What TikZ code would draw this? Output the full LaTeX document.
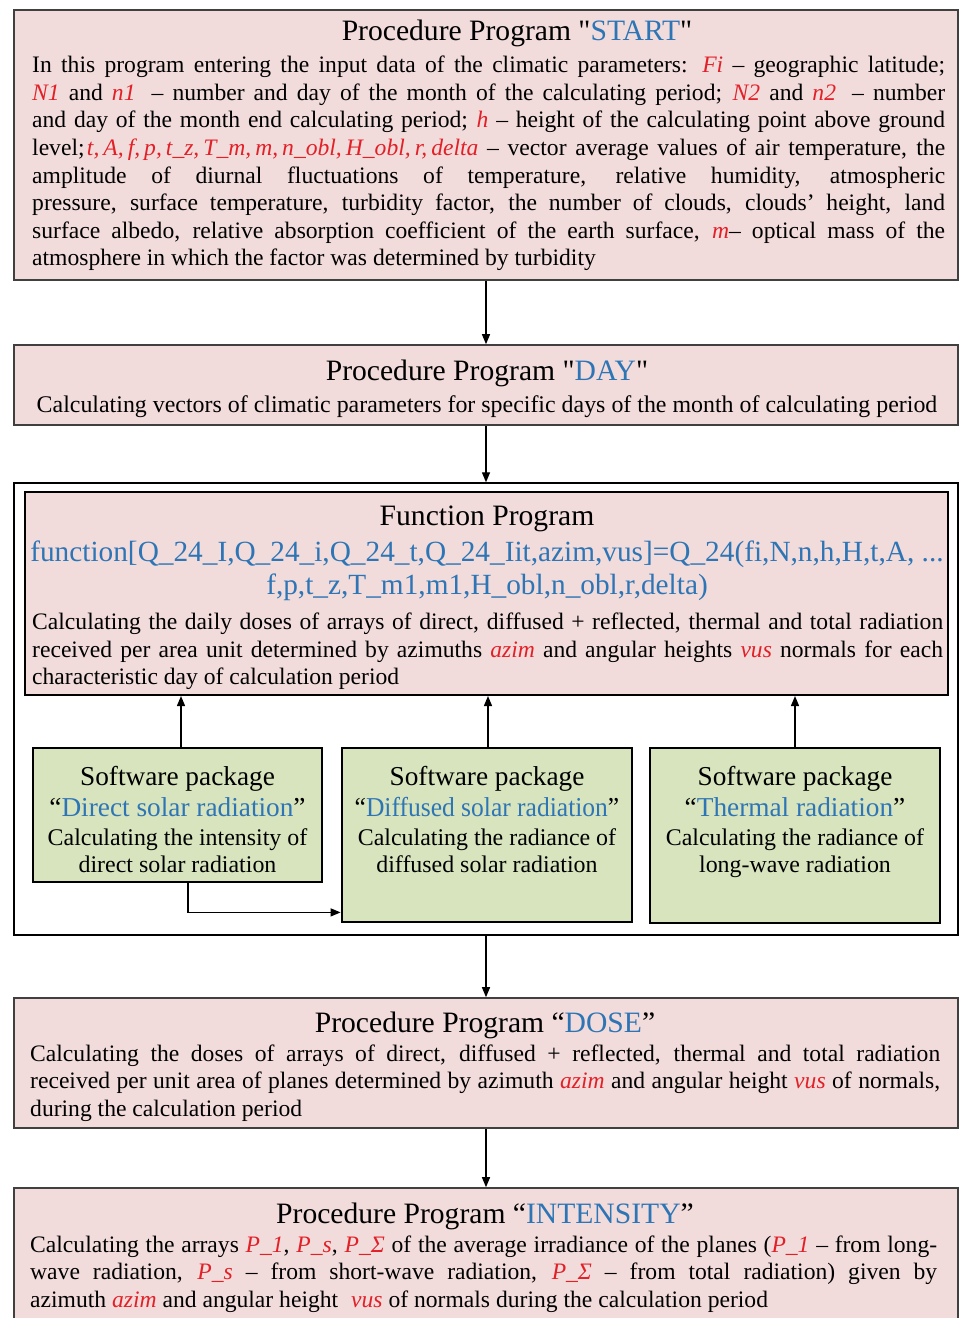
\documentclass[tikz,border=0pt]{standalone}
\usepackage{fontspec}
\usepackage{graphicx}
\setmainfont{Liberation Serif}
\usetikzlibrary{arrows.meta}
\definecolor{pinkfill}{RGB}{242,220,219}
\definecolor{greenfill}{RGB}{215,228,189}
\definecolor{boxgray}{RGB}{64,64,64}
\definecolor{tblue}{RGB}{46,117,182}
\definecolor{tred}{RGB}{226,32,40}
\newcommand\R[1]{\textcolor{tred}{\textit{#1}}}
\newcommand\B[1]{\textcolor{tblue}{#1}}
\newcommand\sq{\XeTeXglyph\XeTeXcharglyph"22\relax}
\newcommand\jl[2]{\hbox to #1{\spaceskip=.25em plus 1fil minus .12em\relax #2}}
\newcommand\fst{\rule{0pt}{20pt}}
\begin{document}
\begin{tikzpicture}[x=1pt,y=-1pt,
  pinkbox/.style={draw=boxgray, line width=1.6pt, fill=pinkfill, inner sep=0pt},
  greenbox/.style={draw=black, line width=2.8pt, fill=greenfill, inner sep=0pt},
  framebox/.style={draw=black, line width=1.4pt, inner sep=0pt},
  ttl/.style={font=\fontsize{29.6}{34}\selectfont, anchor=base, inner sep=0pt},
  fnl/.style={font=\fontsize{29.3}{33}\selectfont, anchor=base, inner sep=0pt, text=tblue},
  gh/.style={font=\fontsize{27.3}{31}\selectfont, anchor=base, inner sep=0pt},
  gb/.style={font=\fontsize{23.9}{27.7}\selectfont, anchor=base, inner sep=0pt},
  body/.style={font=\fontsize{#1}{27.6}\selectfont, anchor=north west, inner sep=0pt},
  line1/.style={font=\fontsize{23.9}{27.6}\selectfont, anchor=base, inner sep=0pt},
  arr/.style={-{Triangle[length=10pt,width=8pt]}, line width=1.3pt},
]
\useasboundingbox (0,0) rectangle (961,1318);
\fill[white] (0,0) rectangle (961,1318);

% boxes
\node[pinkbox, minimum width=944pt, minimum height=270pt] (start) at (486,145) {};
\node[pinkbox, minimum width=944pt, minimum height=80pt] (day) at (486,385) {};
\node[framebox, minimum width=944pt, minimum height=452pt] (frame) at (486,709) {};
\node[pinkbox, draw=black, line width=2pt, minimum width=923pt, minimum height=203pt] (func) at (486.5,593.5) {};
\node[greenbox, minimum width=289pt, minimum height=134pt] (g1) at (177.5,815) {};
\node[greenbox, minimum width=290pt, minimum height=174pt] (g2) at (487,835) {};
\node[greenbox, minimum width=290pt, minimum height=175pt] (g3) at (795,835.5) {};
\node[pinkbox, minimum width=944pt, minimum height=130pt] (dose) at (486,1063) {};
\node[pinkbox, minimum width=944pt, minimum height=140pt] (int) at (486,1258) {};

% START
\node[ttl] (startttl) at (517,40) {Procedure Program \sq\B{START}\sq};
\node[body=23.6] (startbody) at (32,52.5) {\vbox{%
\jl{913pt}{\fst In this program entering the input data of the climatic parameters: \R{Fi} – geographic latitude;}
\jl{913pt}{\R{N1} and \R{n1}\hspace{.3em} – number and day of the month of the calculating period; \R{N2} and \R{n2}\hspace{.3em} – number}
\jl{913pt}{and day of the month end calculating period; \R{h} – height of the calculating point above ground}
\jl{913pt}{level;\hspace{.1em}\R{t,\hspace{.17em}A,\hspace{.17em}f,\hspace{.17em}p,\hspace{.17em}t\_z,\hspace{.17em}T\_m,\hspace{.17em}m,\hspace{.17em}n\_obl,\hspace{.17em}H\_obl,\hspace{.17em}r,\hspace{.17em}delta} – vector average values of air temperature, the}
\jl{913pt}{amplitude of diurnal fluctuations of temperature, relative humidity, atmospheric}
\jl{913pt}{pressure, surface temperature, turbidity factor, the number of clouds, clouds’ height, land}
\jl{913pt}{surface albedo, relative absorption coefficient of the earth surface, \R{m}– optical mass of the}
\hbox{atmosphere in which the factor was determined by turbidity}}};

% DAY
\node[ttl] (dayttl) at (487,380) {Procedure Program \sq\B{DAY}\sq};
\node[line1] (daybody) at (487,412) {Calculating vectors of climatic parameters for specific days of the month of calculating period};

% Function
\node[ttl] (functtl) at (487,525) {Function Program};
\node[fnl] (fn1) at (487,561) {function[Q\_24\_I,Q\_24\_i,Q\_24\_t,Q\_24\_Iit,azim,vus]=Q\_24(fi,N,n,h,H,t,A, ...};
\node[fnl] (fn2) at (487,594) {f,p,t\_z,T\_m1,m1,H\_obl,n\_obl,r,delta)};
\node[body=23.6] (funcbody) at (32,609.5) {\vbox{%
\jl{911pt}{\fst Calculating the daily doses of arrays of direct, diffused + reflected, thermal and total radiation}
\jl{911pt}{received per area unit determined by azimuths \R{azim} and angular heights \R{vus} normals for each}
\hbox{characteristic day of calculation period}}};

% green boxes
\node[gh] (g1a) at (177.5,785) {Software package};
\node[gh] (g1b) at (177.5,816) {“\B{Direct solar radiation}”};
\node[gb] (g1c) at (177.5,845) {Calculating the intensity of};
\node[gb] (g1d) at (177.5,872) {direct solar radiation};
\node[gh] (g2a) at (487,785) {Software package};
\node[gh] (g2b) at (487,816) {\scalebox{0.935}[1]{“\B{Diffused solar radiation}”}};
\node[gb] (g2c) at (487,845) {Calculating the radiance of};
\node[gb] (g2d) at (487,872) {diffused solar radiation};
\node[gh] (g3a) at (795,785) {Software package};
\node[gh] (g3b) at (795,816) {“\B{Thermal radiation}”};
\node[gb] (g3c) at (795,845) {Calculating the radiance of};
\node[gb] (g3d) at (795,872) {long-wave radiation};

% DOSE
\node[ttl] (dosettl) at (485,1032) {Procedure Program “\B{DOSE}”};
\node[body=23.6] (dosebody) at (30,1041) {\vbox{%
\jl{910pt}{\fst Calculating the doses of arrays of direct, diffused + reflected, thermal and total radiation}
\jl{910pt}{received per unit area of planes determined by azimuth \R{azim} and angular height \R{vus} of normals,}
\hbox{during the calculation period}}};

% INTENSITY
\node[ttl] (intttl) at (485,1223) {Procedure Program “\B{INTENSITY}”};
\node[body=23.6] (intbody) at (30,1232) {\vbox{%
\jl{907pt}{\fst Calculating the arrays \R{P\_1}, \R{P\_s}, \R{P\_Σ} of the average irradiance of the planes (\R{P\_1} – from long-}
\jl{907pt}{wave radiation, \R{P\_s} – from short-wave radiation, \R{P\_Σ} – from total radiation) given by}
\hbox{azimuth \R{azim} and angular height\hspace{.3em} \R{vus} of normals during the calculation period}}};

% connectors
\draw[arr] (start.south) -- (day.north);
\draw[arr] (day.south) -- (frame.north);
\draw[arr] ([xshift=3.5pt]g1.north) -- ([xshift=3.5pt]g1.north |- func.south);
\draw[arr] ([xshift=1pt]g2.north) -- ([xshift=1pt]g2.north |- func.south);
\draw[arr] (g3.north) -- (g3.north |- func.south);
\draw[arr] ([xshift=10.5pt]g1.south) |- ([yshift=11pt]g2.south west);
\draw[arr] (frame.south) -- (dose.north);
\draw[arr] (dose.south) -- (int.north);
\end{tikzpicture}
\end{document}
